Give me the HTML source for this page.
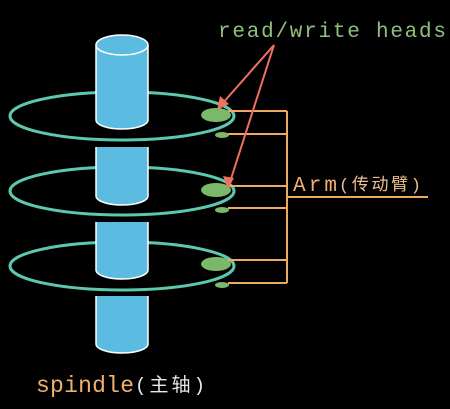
<!DOCTYPE html>
<html><head><style>html,body{margin:0;padding:0;background:#000;}svg{display:block}</style></head><body>
<svg width="450" height="409" xmlns="http://www.w3.org/2000/svg">
<rect width="450" height="409" fill="#000"/>
<g fill="none" stroke="#5cc8b0" stroke-width="3">
<ellipse cx="122" cy="116" rx="112" ry="24"/>
<ellipse cx="122" cy="191" rx="112" ry="24"/>
<ellipse cx="122" cy="266" rx="112" ry="24"/>
</g>
<g fill="#5bbbe0" stroke="#fff" stroke-width="1.5">
<path d="M96 45 V120 A26 9 0 0 0 148 120 V45"/>
<ellipse cx="122" cy="45" rx="26" ry="10"/>
<path d="M96 147 V196 A26 9 0 0 0 148 196 V147" />
<path d="M96 222 V270 A26 9 0 0 0 148 270 V222"/>
<path d="M96 296 V344 A26 9 0 0 0 148 344 V296"/>
</g>
<g fill="#7ab86a">
<ellipse cx="216" cy="115" rx="15" ry="7"/>
<ellipse cx="216" cy="190" rx="15" ry="7"/>
<ellipse cx="216" cy="264" rx="15" ry="7"/>
<ellipse cx="222" cy="135" rx="7" ry="3"/>
<ellipse cx="222" cy="210" rx="7" ry="3"/>
<ellipse cx="222" cy="285" rx="7" ry="3"/>
</g>
<g stroke="#f0a860" stroke-width="2" fill="none">
<path d="M228 111 H287 M228 134 H287 M228 186 H287 M228 208 H287 M228 260 H287 M228 283 H287 M287 111 V283 M287 197 H428"/>
</g>
<g stroke="#f07060" stroke-width="2" fill="#f07060">
<line x1="274" y1="45" x2="222" y2="104"/>
<line x1="274" y1="45" x2="230" y2="182"/>
<polygon points="217,110 220,96 229,104" stroke="none"/>
<polygon points="228,189 223,176 234,178" stroke="none"/>
</g>
<text x="218" y="37" font-family="Liberation Mono, monospace" font-size="21" fill="#8fc080" textLength="228">read/write heads</text>
<text x="293" y="191" font-family="Liberation Mono, monospace" font-size="21" fill="#f0b070" textLength="44">Arm</text>
<text x="339" y="190" font-family="Liberation Mono, Noto Sans CJK SC, sans-serif" font-size="17" fill="#f0c090" textLength="82">(传动臂)</text>
<text x="36" y="392" font-family="Liberation Mono, monospace" font-size="23" fill="#f0b070" textLength="98">spindle</text>
<text x="135" y="391" font-family="Liberation Mono, Noto Sans CJK SC, sans-serif" font-size="19" fill="#e8e8e8" textLength="70">(主轴)</text>
</svg>
</body></html>
